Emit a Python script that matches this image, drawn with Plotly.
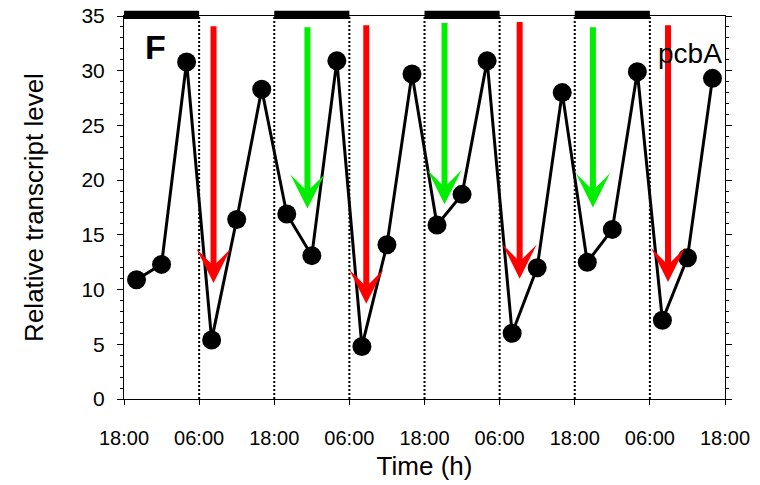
import plotly.graph_objects as go

# ---- data ----
time_h = [2, 6, 10, 14, 18, 22, 26, 30, 34, 38, 42, 46, 50, 54, 58, 62, 66, 70, 74, 78, 82, 86, 90, 94]
level = [10.9, 12.3, 30.8, 5.4, 16.4, 28.3, 16.9, 13.1, 30.9, 4.8, 14.1, 29.7,
         15.9, 18.7, 30.9, 6.0, 12.0, 28.0, 12.5, 15.5, 29.9, 7.2, 12.9, 29.3]

tick_hours = [0, 12, 24, 36, 48, 60, 72, 84, 96]
tick_text = ["18:00", "06:00", "18:00", "06:00", "18:00", "06:00", "18:00", "06:00", "18:00"]

dark_start = [0, 24, 48, 72]
dark_end = [12, 36, 60, 84]
boundary_hours = [12, 24, 36, 48, 60, 72, 84]

red_x = [14.3, 38.7, 63.2, 86.9]
red_top = [34.2, 34.3, 34.6, 34.3]
red_tip = [10.6, 8.7, 11.0, 10.7]

green_x = [29.3, 51.2, 74.9]
green_top = [34.1, 34.5, 34.1]
green_tip = [17.4, 17.8, 17.5]

FONT = "Liberation Sans, Arial, sans-serif"

fig = go.Figure()

fig.add_trace(go.Scatter(
    x=time_h, y=level, mode="lines+markers",
    line=dict(color="black", width=3),
    marker=dict(color="black", size=19),
    showlegend=False, cliponaxis=False,
))

shapes = []
for h in boundary_hours:
    shapes.append(dict(type="line", xref="x", yref="y", x0=h, x1=h, y0=0, y1=35,
                       line=dict(color="black", width=2, dash="2px,2px"), layer="below"))
for s, e in zip(dark_start, dark_end):
    shapes.append(dict(type="rect", xref="x", yref="paper", x0=s, x1=e, y0=0.992, y1=1.0138,
                       fillcolor="black", line=dict(width=0), layer="above"))

annotations = []
for x, t, b in zip(red_x, red_top, red_tip):
    annotations.append(dict(x=x, y=b, ax=x, ay=t, xref="x", yref="y", axref="x", ayref="y",
                            text="", showarrow=True, arrowhead=3, arrowsize=0.95,
                            arrowwidth=6, arrowcolor="#ff0000", standoff=0))
for x, t, b in zip(green_x, green_top, green_tip):
    annotations.append(dict(x=x, y=b, ax=x, ay=t, xref="x", yref="y", axref="x", ayref="y",
                            text="", showarrow=True, arrowhead=3, arrowsize=0.95,
                            arrowwidth=6, arrowcolor="#00ee00", standoff=0))

annotations.append(dict(x=5, y=32.2, xref="x", yref="y", text="<b>F</b>", showarrow=False,
                        font=dict(family=FONT, size=34, color="black")))
annotations.append(dict(x=90.4, y=31.6, xref="x", yref="y", text="pcbA", showarrow=False,
                        font=dict(family=FONT, size=28, color="black")))

fig.update_layout(
    width=760, height=485,
    margin=dict(l=124, r=35, t=16, b=86),
    paper_bgcolor="white", plot_bgcolor="white",
    shapes=shapes, annotations=annotations,
    font=dict(family=FONT, color="black"),
    xaxis=dict(
        range=[0, 96], tickvals=tick_hours, ticktext=tick_text,
        showgrid=False, zeroline=False, automargin=False,
        showline=True, linecolor="black", linewidth=1, mirror=True,
        ticks="outside", ticklen=5, tickcolor="black",
        tickfont=dict(family=FONT, size=20, color="black"),
        ticklabelstandoff=16,
        title=dict(text="Time (h)", font=dict(family=FONT, size=26, color="black"), standoff=8),
    ),
    yaxis=dict(
        range=[0, 35], tickvals=[0, 5, 10, 15, 20, 25, 30, 35],
        showgrid=False, zeroline=False, automargin=False,
        showline=True, linecolor="black", linewidth=1, mirror="ticks",
        ticks="outside", ticklen=6, tickcolor="black",
        minor=dict(dtick=1, ticks="outside", ticklen=3, tickcolor="black"),
        tickfont=dict(family=FONT, size=21, color="black"),
        ticklabelstandoff=8,
        title=dict(text="Relative transcript level", font=dict(family=FONT, size=26, color="black"), standoff=30),
    ),
)

fig.write_html("out.html")
